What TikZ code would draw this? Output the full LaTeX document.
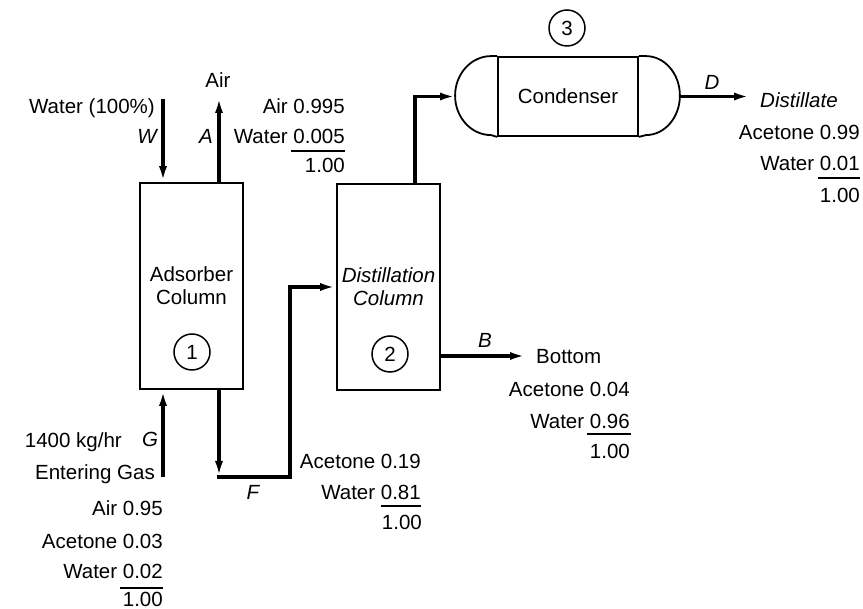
\documentclass[tikz,border=0pt]{standalone}
\usepackage{fontspec}
\setmainfont{Liberation Sans}
\usetikzlibrary{arrows.meta,calc}
\begin{document}
\begin{tikzpicture}[x=1pt,y=-1pt,
  every node/.style={inner sep=0pt,font=\fontsize{20.5}{23}\selectfont},
  pipe/.style={line width=3.4pt},
  flow/.style={pipe,-{Latex[length=16pt,width=8pt]}},
  unitbox/.style={draw,line width=1.8pt,rectangle,minimum width=103pt,minimum height=206pt,align=center},
  tag/.style={draw,circle,line width=1.5pt,minimum size=36pt},
  lbl/.style={font=\fontsize{20.5}{23}\selectfont\itshape},
  rulel/.style={line width=1.5pt}]
\useasboundingbox (0,0) rectangle (863,609);

% units
\node[unitbox] (box1) at (191.5,286) {Adsorber\\Column};
\node[unitbox,font=\fontsize{20.5}{23}\selectfont\itshape] (box2) at (388.5,287) {Distillation\\Column};
\node[tag] (t1) at (192,352) {1};
\node[tag] (t2) at (390,354) {2};
\node[tag] (t3) at (567,28) {3};

% condenser
\node[draw,line width=1.8pt,minimum width=140pt,minimum height=79pt] (cond) at (568,96.5) {Condenser};
\draw[line width=1.8pt] (cond.north west) -- ++(-6,0)
   arc[start angle=90,end angle=270,x radius=36pt,y radius=39.5pt] -- (cond.south west);
\draw[line width=1.8pt] (cond.north east) -- ++(7,0)
   arc[start angle=90,end angle=-90,x radius=34pt,y radius=39.5pt] -- (cond.south east);
\coordinate (condL) at (456,96.5);
\coordinate (condR) at (679,96.5);

% stream coordinates
\coordinate (wtop) at (163,99);
\coordinate (atop) at (219,97);
\coordinate (gbot) at (163,477);
\coordinate (fcor) at (219,477);
\coordinate (fb) at (290,477);
\coordinate (fu) at (290,287);
\coordinate (tp) at (415,96.5);
\coordinate (dend) at (750,96.5);
\coordinate (bstart) at (440,356);
\coordinate (bend) at (526,356);

% streams
\draw[flow] (wtop) -- (wtop |- box1.north);
\draw[flow] (atop |- box1.north) -- (atop);
\draw[flow] (gbot) -- (gbot |- box1.south);
\draw[flow] (fcor |- box1.south) -- (fcor);
\draw[flow] ($(fcor)+(-1.7,0)$) -- (fb) -- (fu) -- (box2.west |- fu);
\draw[flow] (tp |- box2.north) -- (tp) -- (condL);
\draw[flow] (condR) -- (dend);
\draw[flow] (bstart) -- (bend);

% labels
\node (airtop) at (218,80) {Air};
\node[anchor=east] (wat) at (155,108) {Water (100\%)};
\node[lbl] (lw) at (147,136) {W};
\node[lbl] (la) at (206,136) {A};
\node[lbl] (lg) at (150,439) {G};
\node[lbl] (lf) at (253,492) {F};
\node[lbl] (lb) at (485,340) {B};
\node[lbl] (ld) at (712,82) {D};

% stream A composition
\node[anchor=east] (a1) at (345,106) {Air 0.995};
\node[anchor=east] (a2) at (345,136) {Water 0.005};
\draw[rulel] (291,151) -- (345,151);
\node[anchor=east] (a3) at (345,165) {1.00};

% stream G
\node[anchor=east] (g0) at (122,442) {1400 kg/hr};
\node[anchor=east] (g00) at (155,474) {Entering Gas};
\node[anchor=east] (g1) at (163,508) {Air 0.95};
\node[anchor=east] (g2) at (163,541) {Acetone 0.03};
\node[anchor=east] (g3) at (163,571) {Water 0.02};
\draw[rulel] (120,588) -- (163,588);
\node[anchor=east] (g4) at (163,599) {1.00};

% stream F
\node[anchor=east] (f1) at (421,461) {Acetone 0.19};
\node[anchor=east] (f2) at (421,492) {Water 0.81};
\draw[rulel] (381,506) -- (421,506);
\node[anchor=east] (f3) at (422,522) {1.00};

% stream B
\node[anchor=west] (b0) at (536,357) {Bottom};
\node[anchor=east] (b1) at (630,389) {Acetone 0.04};
\node[anchor=east] (b2) at (630,421) {Water 0.96};
\draw[rulel] (587,434) -- (631,434);
\node[anchor=east] (b3) at (630,451) {1.00};

% stream D
\node[anchor=west,lbl] (d0) at (760,100) {Distillate};
\node[anchor=east] (d1) at (860,132) {Acetone 0.99};
\node[anchor=east] (d2) at (860,163) {Water 0.01};
\draw[rulel] (818,178) -- (860,178);
\node[anchor=east] (d3) at (860,195) {1.00};
\end{tikzpicture}
\end{document}
